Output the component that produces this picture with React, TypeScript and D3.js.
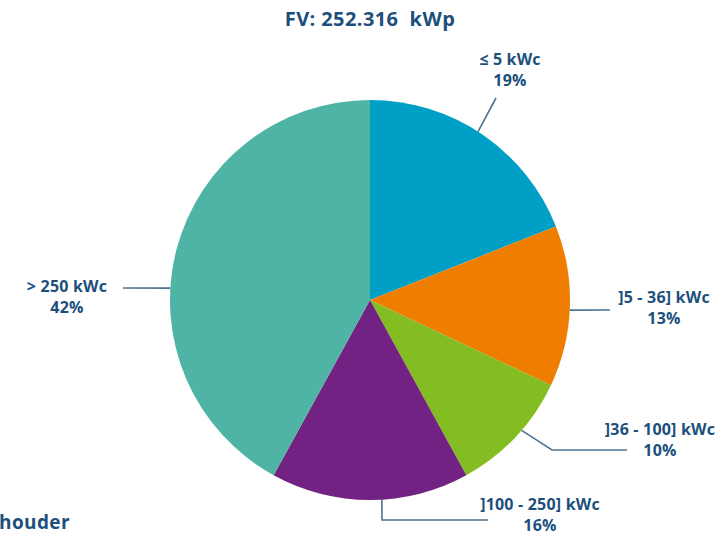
import React from "react";
import * as d3 from "d3";

const title = "FV: 252.316\u00a0 kWp";
const categories = ["≤ 5 kWc", "]5 - 36] kWc", "]36 - 100] kWc", "]100 - 250] kWc", "> 250 kWc"];
const shares = [19, 13, 10, 16, 42];
const colors = ["#00a0c6", "#ef7d00", "#84bd22", "#722282", "#4fb3a5"];

// label placement: angle shift (deg) for the leader start, extra leader points, text anchor
const layout = [
  { shift: -1.5, pts: [[496, 98]], tx: 510, ty: 65 },
  { shift: 1.1, pts: [[610, 310]], tx: 664, ty: 303 },
  { shift: -2.5, pts: [[552, 450], [627, 450]], tx: 660, ty: 435 },
  { shift: -3.4, pts: [[382, 520], [488, 520]], tx: 540, ty: 510 },
  { shift: -11, pts: [[123, 288]], tx: 67, ty: 292 },
];

const W = 727;
const H = 535;
const cx = 370;
const cy = 300;
const R = 200;
const textColor = "#1d4f7c";
const lineColor = "#4f7192";
const font = "'Open Sans', Lato, sans-serif";

export default function App() {
  const pie = d3.pie<number>().sort(null).value((d) => d)(shares);
  const arc = d3.arc<d3.PieArcDatum<number>>().innerRadius(0).outerRadius(R);

  return (
    <svg width={W} height={H} style={{ position: "absolute", left: 0, top: 0 }}>
      <text x={370} y={26} textAnchor="middle" fill={textColor} fontFamily={font} fontWeight={700} fontSize={20} letterSpacing={0.4}>
        {title}
      </text>
      <g transform={`translate(${cx},${cy})`}>
        {pie.map((p, i) => (
          <path key={i} d={arc(p) ?? ""} fill={colors[i]} />
        ))}
      </g>
      {pie.map((p, i) => {
        const L = layout[i];
        const a = (p.startAngle + p.endAngle) / 2 + (L.shift * Math.PI) / 180;
        const sx = cx + R * Math.sin(a);
        const sy = cy - R * Math.cos(a);
        const pts = [[sx, sy], ...L.pts];
        const line = d3.line()(pts as [number, number][]) ?? "";
        return (
          <g key={i}>
            <path d={line} fill="none" stroke={lineColor} strokeWidth={1.6} />
            <text x={L.tx} y={L.ty} textAnchor="middle" fill={textColor} fontFamily={font} fontWeight={700} fontSize={16} letterSpacing={0.2}>
              {categories[i]}
            </text>
            <text x={L.tx} y={L.ty + 21} textAnchor="middle" fill={textColor} fontFamily={font} fontWeight={700} fontSize={16} letterSpacing={0.2}>
              {shares[i]}%
            </text>
          </g>
        );
      })}
      <text x={-1} y={529} fill={textColor} fontFamily={font} fontWeight={700} fontSize={19} letterSpacing={0.4}>
        houder
      </text>
    </svg>
  );
}
